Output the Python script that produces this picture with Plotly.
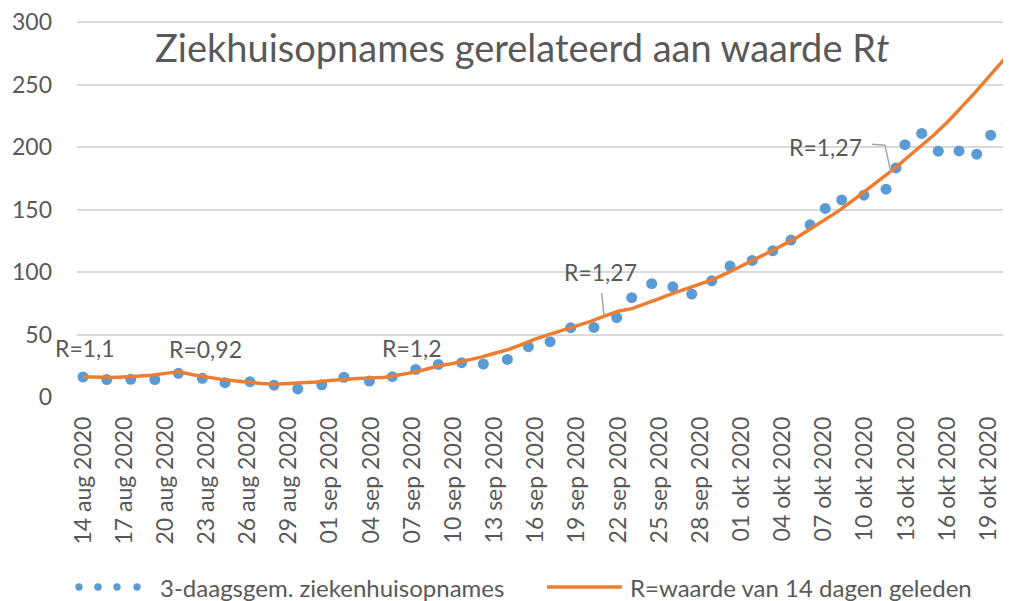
import plotly.graph_objects as go

# ---- data ----
tick_days = [0, 3, 6, 9, 12, 15, 18, 21, 24, 27, 30, 33, 36, 39, 42, 45, 48, 51, 54, 57, 60, 63, 66]
tick_labels = ["14 aug 2020", "17 aug 2020", "20 aug 2020", "23 aug 2020", "26 aug 2020",
               "29 aug 2020", "01 sep 2020", "04 sep 2020", "07 sep 2020", "10 sep 2020",
               "13 sep 2020", "16 sep 2020", "19 sep 2020", "22 sep 2020", "25 sep 2020",
               "28 sep 2020", "01 okt 2020", "04 okt 2020", "07 okt 2020", "10 okt 2020",
               "13 okt 2020", "16 okt 2020", "19 okt 2020"]

# 3-daags gemiddelde ziekenhuisopnames (dotted series, positions in days since 14 aug)
dot_days = [0, 1.73, 3.48, 5.23, 6.95, 8.7, 10.35, 12.17, 13.92, 15.65, 17.4, 19.02, 20.87,
            22.54, 24.25, 25.9, 27.6, 29.18, 30.93, 32.46, 34.04, 35.55, 37.24, 38.9, 39.99,
            41.45, 42.99, 44.37, 45.82, 47.16, 48.78, 50.27, 51.6, 52.99, 54.1, 55.3, 56.92,
            58.53, 59.26, 59.91, 61.13, 62.34, 63.85, 65.14, 66.16, 67.44]
dot_values = [16, 14, 14.2, 14, 19, 15, 11.5, 12.3, 9.5, 6.5, 9.8, 15.8, 12.8,
              16.3, 22.1, 26.1, 27.5, 26.4, 30.1, 40.3, 44.3, 55.5, 55.7, 63.5, 79.5,
              90.7, 88.2, 82.4, 93, 104.8, 109.3, 117, 125.6, 137.8, 151, 157.8, 161.6,
              166.4, 183.4, 202, 211, 196.8, 197, 194.4, 209.6, 219]

# R-waarde van 14 dagen geleden (daily model line)
line_days = list(range(0, 69))
line_values = [16.3, 15.8, 15.6, 16.1, 16.7, 17.4, 18.9, 20.2, 17.8, 15.8, 14.3, 13.0, 11.7,
               10.8, 10.2, 10.7, 11.3, 12.1, 13.2, 14.2, 14.8, 15.2, 15.8, 17.6, 19.5, 22.2,
               25.0, 26.9, 29.1, 31.9, 35.0, 38.0, 42.1, 46.6, 50.2, 53.6, 57.0, 60.5, 64.7,
               68.6, 70.7, 74.5, 78.7, 83.0, 86.8, 90.3, 94.4, 99.5, 104.8, 110.4, 115.9,
               121.6, 127.5, 134.5, 141.5, 148.4, 156.4, 164.7, 172.9, 181.7, 190.9, 199.8,
               209.5, 220.0, 231.5, 243.5, 256.0, 268.5, 281.0]

# R labels: text, day, value
r_labels = ["R=1,1", "R=0,92", "R=1,2", "R=1,27", "R=1,27"]
r_label_days = [0.15, 8.96, 24.0, 37.7, 54.15]
r_label_values = [39.2, 38.2, 39.4, 100.0, 200.0]

BLUE = "#5B9BD5"
ORANGE = "#ED7D31"
GREY = "#595959"
GRID = "#D9D9D9"
FONT = "Lato"

# page has an 8px body margin: work in page pixels, convert to figure pixels
OFF = 8
Y_TOP = 301
W, H = 1011 - OFF, 601 - OFF
ML, MR, MT, MB = 77 - OFF, 0, 13, 204
PW, PH = W - ML - MR, H - MT - MB


def px_x(p):
    return (p - OFF - ML) / PW


def px_y(p):
    return (H - MB - (p - OFF)) / PH


fig = go.Figure()
fig.add_trace(go.Scatter(x=dot_days, y=dot_values, mode="markers",
                         name="3-daagsgem. ziekenhuisopnames",
                         marker=dict(color=BLUE, size=11, line=dict(width=0)),
                         showlegend=False, cliponaxis=False))
fig.add_trace(go.Scatter(x=line_days, y=line_values, mode="lines",
                         name="R=waarde van 14 dagen geleden",
                         line=dict(color=ORANGE, width=3.5),
                         showlegend=False))

for t, d, v in zip(r_labels, r_label_days, r_label_values):
    fig.add_annotation(x=d, y=v, xref="x", yref="y", text=t, showarrow=False,
                       font=dict(family=FONT, size=23, color=GREY),
                       xanchor="center", yanchor="middle")

# leader lines for the R=1,27 labels
fig.add_shape(type="path", xref="x", yref="y",
              path="M 37.8 83.2 L 37.97 65.6",
              line=dict(color="#A6A6A6", width=1.5))
fig.add_shape(type="path", xref="x", yref="y",
              path="M 57.5 202.4 L 58.45 201.6 L 58.9 179.2",
              line=dict(color="#A6A6A6", width=1.5))

# title
fig.add_annotation(xref="paper", yref="paper",
                   x=px_x(522), y=px_y(47),
                   text="Ziekhuisopnames gerelateerd aan waarde R<i>t</i>",
                   showarrow=False, xanchor="center", yanchor="middle",
                   font=dict(family=FONT, size=38, color=GREY))

# custom legend
leg_y = 587
for cx in [79, 98, 117, 137]:
    fig.add_shape(type="circle", xref="paper", yref="paper",
                  xsizemode="pixel", ysizemode="pixel",
                  xanchor=px_x(cx), yanchor=px_y(leg_y),
                  x0=-3.7, x1=3.7, y0=-3.7, y1=3.7,
                  fillcolor=BLUE, line=dict(width=0))
fig.add_annotation(xref="paper", yref="paper", x=px_x(158), y=px_y(leg_y),
                   text="3-daagsgem. ziekenhuisopnames", showarrow=False,
                   xanchor="left", yanchor="middle",
                   font=dict(family=FONT, size=24, color=GREY))
fig.add_shape(type="line", xref="paper", yref="paper",
              x0=px_x(547), x1=px_x(622), y0=px_y(leg_y), y1=px_y(leg_y),
              line=dict(color=ORANGE, width=3.5))
fig.add_annotation(xref="paper", yref="paper", x=px_x(628), y=px_y(leg_y),
                   text="R=waarde van 14 dagen geleden", showarrow=False,
                   xanchor="left", yanchor="middle",
                   font=dict(family=FONT, size=24, color=GREY))

fig.update_layout(
    width=W, height=H,
    margin=dict(l=ML, r=MR, t=MT, b=MB, pad=0),
    paper_bgcolor="white", plot_bgcolor="white",
    font=dict(family=FONT, color=GREY),
    showlegend=False,
)
fig.update_xaxes(range=[-0.44, 67.64], tickmode="array", tickvals=tick_days,
                 ticktext=tick_labels, tickangle=-90, showgrid=False, zeroline=False,
                 showline=False, ticks="", ticklabelstandoff=14,
                 ticklabeloverflow="allow",
                 tickfont=dict(family=FONT, size=23, color=GREY))
fig.update_yaxes(range=[0, Y_TOP], dtick=50, tick0=0, showgrid=True, gridcolor=GRID,
                 gridwidth=1.5, zeroline=False, showline=False, ticks="",
                 ticklabelstandoff=24, ticklabeloverflow="allow",
                 tickfont=dict(family=FONT, size=23, color=GREY))

fig.write_html("out.html")
